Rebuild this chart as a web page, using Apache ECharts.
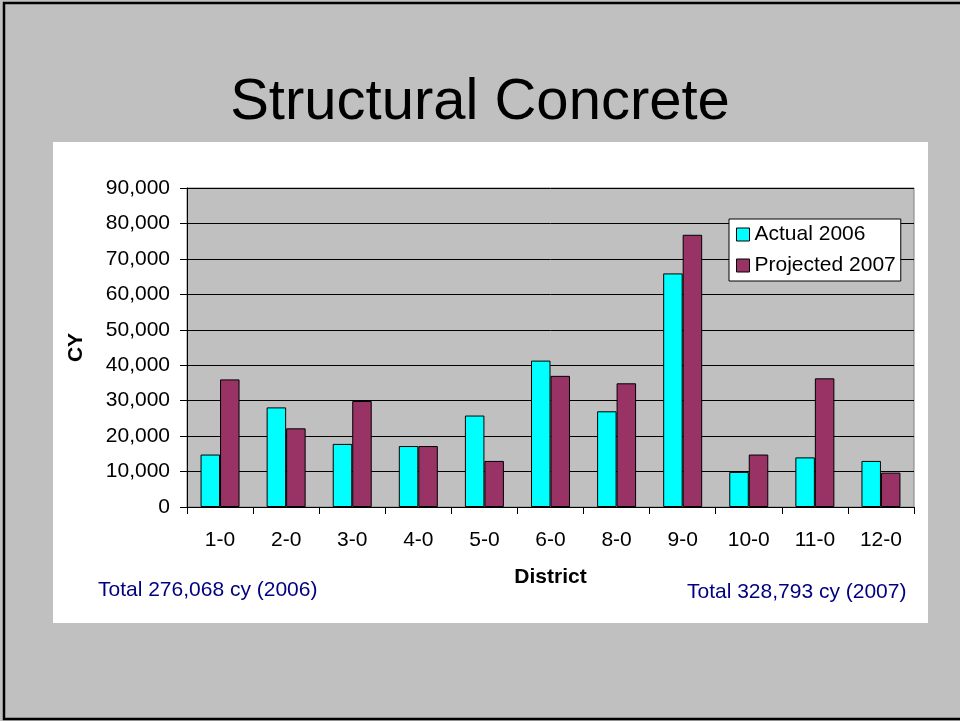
<!DOCTYPE html>
<html>
<head>
<meta charset="utf-8">
<script src="https://cdn.jsdelivr.net/npm/echarts@6/dist/echarts.min.js"></script>
<style>
html,body{margin:0;padding:0;background:#c0c0c0;}
#chart{width:960px;height:721px;}
</style>
</head>
<body>
<div id="chart"></div>
<script>
var categories = ['1-0','2-0','3-0','4-0','5-0','6-0','8-0','9-0','10-0','11-0','12-0'];
var actual2006 = [14800, 28100, 17800, 17200, 25800, 41300, 27000, 65900, 9900, 14000, 13000];
var projected2007 = [36000, 22200, 29900, 17200, 13000, 37000, 34900, 76800, 14800, 36300, 9700];
var yTicks = [0, 10000, 20000, 30000, 40000, 50000, 60000, 70000, 80000, 90000];
var totalLeft = 'Total 276,068 cy (2006)';
var totalRight = 'Total 328,793 cy (2007)';

var FONT = '"Liberation Sans", Arial, sans-serif';
var chart = echarts.init(document.getElementById('chart'));
chart.setOption({
  backgroundColor: '#c0c0c0',
  animation: false,
  title: {
    text: 'Structural Concrete',
    left: 'center',
    top: 69,
    textStyle: {fontFamily: FONT, fontSize: 58, fontWeight: 'normal', color: '#000'}
  },
  graphic: [
    {type: 'rect', z: -10, shape: {x: 4, y: 3, width: 1000, height: 716}, style: {fill: 'none', stroke: '#000', lineWidth: 2.5}},
    {type: 'rect', z: -9, shape: {x: 53, y: 142, width: 875, height: 481}, style: {fill: '#ffffff'}},
    {type: 'text', z: 10, left: 98, top: 580, style: {text: totalLeft, fill: '#000080', font: '21px ' + FONT}},
    {type: 'text', z: 10, left: 687, top: 582, style: {text: totalRight, fill: '#000080', font: '21px ' + FONT}}
  ],
  legend: {
    orient: 'vertical',
    left: 729,
    top: 219,
    backgroundColor: '#fff',
    borderColor: '#000',
    borderWidth: 1,
    padding: [5, 5, 5, 7],
    itemGap: 10,
    itemWidth: 13,
    itemHeight: 13,
    icon: 'rect',
    itemStyle: {borderColor: '#000', borderWidth: 1},
    textStyle: {fontFamily: FONT, fontSize: 21, color: '#000', padding: [0, 0, 0, 0]},
    data: ['Actual 2006', 'Projected 2007']
  },
  grid: {
    left: 187, top: 188, width: 727, height: 319,
    show: true, backgroundColor: '#c0c0c0', borderColor: '#808080', borderWidth: 1
  },
  xAxis: {
    type: 'category',
    data: categories,
    name: 'District',
    nameLocation: 'middle',
    nameGap: 60,
    nameTextStyle: {fontFamily: FONT, fontSize: 21, fontWeight: 'bold', color: '#000'},
    axisLine: {lineStyle: {color: '#000', width: 1}},
    axisTick: {show: true, length: 7, lineStyle: {color: '#000'}},
    axisLabel: {fontFamily: FONT, fontSize: 21, color: '#000', margin: 23}
  },
  yAxis: {
    type: 'value',
    min: 0, max: 90000, interval: 10000,
    name: 'CY',
    nameLocation: 'middle',
    nameGap: 100,
    nameTextStyle: {fontFamily: FONT, fontSize: 21, fontWeight: 'bold', color: '#000'},
    axisLine: {show: true, lineStyle: {color: '#000', width: 1}},
    axisTick: {show: true, length: 7, lineStyle: {color: '#000'}},
    axisLabel: {
      fontFamily: FONT, fontSize: 21, color: '#000', margin: 17,
      formatter: function (v) { return yTicks.indexOf(v) >= 0 ? v.toLocaleString('en-US') : ''; }
    },
    splitLine: {show: true, lineStyle: {color: '#000', width: 1}}
  },
  series: [
    {
      name: 'Actual 2006', type: 'bar', data: actual2006,
      barGap: '0%', barCategoryGap: '41%',
      itemStyle: {color: '#00ffff', borderColor: '#000', borderWidth: 1}
    },
    {
      name: 'Projected 2007', type: 'bar', data: projected2007,
      barGap: '0%', barCategoryGap: '41%',
      itemStyle: {color: '#993366', borderColor: '#000', borderWidth: 1}
    }
  ]
});
</script>
</body>
</html>
